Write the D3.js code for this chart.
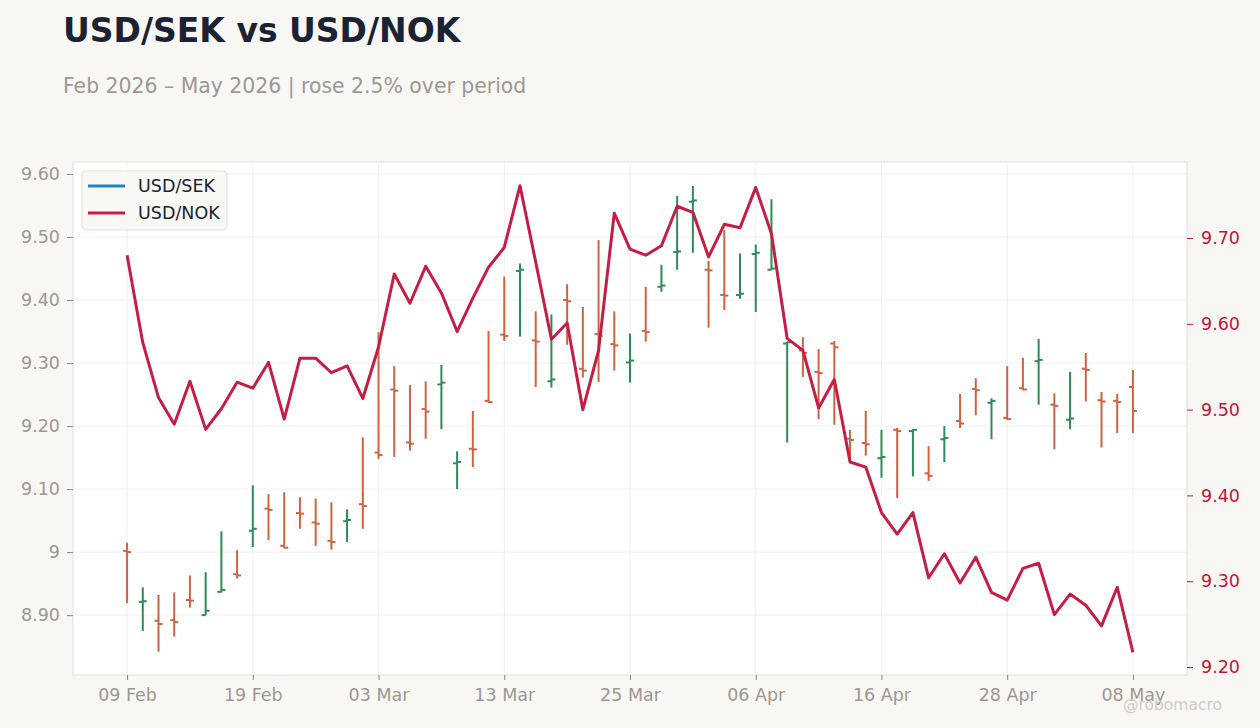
<!DOCTYPE html>
<html>
<head>
<meta charset="utf-8">
<script src="https://cdn.jsdelivr.net/npm/d3@7"></script>
<style>
  body { margin: 0; background: #f8f7f4; font-family: "DejaVu Sans", sans-serif; }
  #chart { width: 1260px; height: 728px; }
</style>
</head>
<body>
<div id="chart"></div>
<script>
// USD/SEK (OHLC, left axis) vs USD/NOK (close line, right axis)
const dates = [
  "2026-02-09","2026-02-10","2026-02-11","2026-02-12","2026-02-13","2026-02-16","2026-02-17","2026-02-18","2026-02-19","2026-02-20",
  "2026-02-23","2026-02-24","2026-02-25","2026-02-26","2026-02-27","2026-03-02","2026-03-03","2026-03-04","2026-03-05","2026-03-06",
  "2026-03-09","2026-03-10","2026-03-11","2026-03-12","2026-03-13","2026-03-16","2026-03-17","2026-03-18","2026-03-19","2026-03-20",
  "2026-03-23","2026-03-24","2026-03-25","2026-03-26","2026-03-27","2026-03-30","2026-03-31","2026-04-01","2026-04-02","2026-04-03",
  "2026-04-06","2026-04-07","2026-04-08","2026-04-09","2026-04-10","2026-04-13","2026-04-14","2026-04-15","2026-04-16","2026-04-17",
  "2026-04-20","2026-04-21","2026-04-22","2026-04-23","2026-04-24","2026-04-27","2026-04-28","2026-04-29","2026-04-30","2026-05-01",
  "2026-05-04","2026-05-05","2026-05-06","2026-05-07","2026-05-08"
];
const sekOpen = [9.002, 8.921, 8.891, 8.892, 8.924, 8.900, 8.937, 8.965, 9.034, 9.069, 9.010, 9.062, 9.047, 9.018, 9.049, 9.076, 9.158, 9.258, 9.174, 9.227, 9.266, 9.141, 9.164, 9.240, 9.345, 9.446, 9.336, 9.271, 9.400, 9.291, 9.346, 9.330, 9.301, 9.351, 9.421, 9.476, 9.556, 9.448, 9.408, 9.408, 9.473, 9.448, 9.331, 9.320, 9.286, 9.331, 9.180, 9.173, 9.149, 9.194, 9.192, 9.125, 9.179, 9.208, 9.259, 9.237, 9.213, 9.260, 9.303, 9.234, 9.210, 9.291, 9.241, 9.240, 9.262];
const sekHigh = [9.015, 8.944, 8.932, 8.936, 8.963, 8.968, 9.033, 9.003, 9.106, 9.092, 9.095, 9.087, 9.085, 9.079, 9.068, 9.182, 9.349, 9.295, 9.265, 9.271, 9.297, 9.160, 9.224, 9.351, 9.437, 9.458, 9.382, 9.377, 9.425, 9.389, 9.495, 9.382, 9.347, 9.421, 9.456, 9.565, 9.581, 9.462, 9.511, 9.474, 9.488, 9.560, 9.334, 9.341, 9.322, 9.335, 9.194, 9.224, 9.194, 9.197, 9.195, 9.168, 9.200, 9.251, 9.276, 9.244, 9.295, 9.308, 9.338, 9.252, 9.286, 9.316, 9.254, 9.251, 9.289];
const sekLow = [8.919, 8.875, 8.842, 8.866, 8.912, 8.900, 8.936, 8.958, 9.008, 9.019, 9.006, 9.037, 9.010, 9.004, 9.016, 9.037, 9.148, 9.151, 9.161, 9.180, 9.195, 9.100, 9.135, 9.237, 9.335, 9.342, 9.262, 9.261, 9.329, 9.277, 9.270, 9.288, 9.269, 9.334, 9.413, 9.448, 9.475, 9.356, 9.384, 9.402, 9.381, 9.448, 9.174, 9.278, 9.211, 9.202, 9.143, 9.153, 9.118, 9.086, 9.120, 9.113, 9.143, 9.197, 9.217, 9.179, 9.210, 9.257, 9.234, 9.163, 9.195, 9.239, 9.166, 9.189, 9.189];
const sekClose = [9.000, 8.922, 8.886, 8.889, 8.923, 8.907, 8.940, 8.963, 9.037, 9.067, 9.007, 9.061, 9.045, 9.016, 9.051, 9.073, 9.154, 9.256, 9.172, 9.223, 9.269, 9.143, 9.163, 9.238, 9.343, 9.448, 9.334, 9.274, 9.398, 9.288, 9.343, 9.328, 9.304, 9.349, 9.423, 9.477, 9.558, 9.447, 9.407, 9.410, 9.475, 9.450, 9.333, 9.316, 9.284, 9.325, 9.178, 9.171, 9.151, 9.192, 9.194, 9.121, 9.181, 9.204, 9.257, 9.240, 9.211, 9.258, 9.305, 9.232, 9.212, 9.289, 9.239, 9.238, 9.224];
const nokClose = [9.680, 9.578, 9.514, 9.483, 9.533, 9.477, 9.501, 9.532, 9.525, 9.555, 9.489, 9.560, 9.560, 9.543, 9.551, 9.513, 9.573, 9.658, 9.624, 9.667, 9.636, 9.591, 9.630, 9.666, 9.689, 9.761, 9.672, 9.582, 9.601, 9.500, 9.569, 9.729, 9.687, 9.680, 9.691, 9.737, 9.730, 9.678, 9.716, 9.712, 9.759, 9.705, 9.583, 9.569, 9.502, 9.535, 9.439, 9.433, 9.380, 9.355, 9.380, 9.304, 9.332, 9.298, 9.328, 9.287, 9.278, 9.315, 9.321, 9.261, 9.285, 9.272, 9.248, 9.293, 9.217];
const xTickIdx = [0, 8, 16, 24, 32, 40, 48, 56, 64];
const leftTicks = [8.9, 9.0, 9.1, 9.2, 9.3, 9.4, 9.5, 9.6];
const rightTicks = [9.2, 9.3, 9.4, 9.5, 9.6, 9.7];

(() => {
    const W = 1260, H = 728;
    const m = { top: 162, right: 73, bottom: 53, left: 73 };
    const w = W - m.left - m.right;
    const h = H - m.top - m.bottom;

    const up = "#2e8b57", down = "#cd6440", nokCol = "#c41e45", sekCol = "#1f88c4";
    const grey = "#9c9893";
    const fs = 17.5;

    const svg = d3.select("#chart").append("svg").attr("width", W).attr("height", H)
        .style("font-family", "'DejaVu Sans', sans-serif");

    svg.append("text").attr("x", 63).attr("y", 42).attr("font-size", 33).attr("font-weight", "bold")
        .attr("fill", "#1b2333").text("USD/SEK vs USD/NOK");
    svg.append("text").attr("x", 63).attr("y", 93).attr("font-size", 20.4).attr("fill", grey)
        .text("Feb 2026 \u2013 May 2026 | rose 2.5% over period");

    const g = svg.append("g").attr("transform", `translate(${m.left},${m.top})`);

    const x = d3.scaleLinear().domain([-3.44, 67.44]).range([0, w]);
    const y = d3.scaleLinear().domain([8.805, 9.619]).range([h, 0]);
    const y2 = d3.scaleLinear().domain([9.1907, 9.7886]).range([h, 0]);

    g.append("rect").attr("width", w).attr("height", h).attr("fill", "#fff")
        .attr("stroke", "#e2dfda").attr("stroke-width", 1);

    // grid
    g.append("g").selectAll("line").data(leftTicks).join("line")
        .attr("x1", 0).attr("x2", w).attr("y1", d => y(d)).attr("y2", d => y(d))
        .attr("stroke", "#ececec").attr("stroke-width", 0.8);
    g.append("g").selectAll("line").data(xTickIdx).join("line")
        .attr("y1", 0).attr("y2", h).attr("x1", d => x(d)).attr("x2", d => x(d))
        .attr("stroke", "#ececec").attr("stroke-width", 0.8);

    const fmtDate = d3.timeFormat("%d %b");
    const parse = d3.timeParse("%Y-%m-%d");

    const styleAxis = (sel, col) => {
        sel.select(".domain").remove();
        sel.selectAll(".tick line").attr("stroke", "#8a8580");
        sel.selectAll(".tick text").attr("fill", col).attr("font-size", fs)
            .attr("font-family", "'DejaVu Sans', sans-serif");
    };

    g.append("g").attr("transform", `translate(0,${h})`)
        .call(d3.axisBottom(x).tickValues(xTickIdx).tickSize(5).tickPadding(9)
            .tickFormat(i => fmtDate(parse(dates[i]))))
        .call(s => styleAxis(s, grey));

    g.append("g")
        .call(d3.axisLeft(y).tickValues(leftTicks).tickSize(6).tickPadding(7)
            .tickFormat(v => Math.abs(v - Math.round(v)) < 1e-9 ? String(Math.round(v)) : v.toFixed(2)))
        .call(s => styleAxis(s, grey));

    g.append("g").attr("transform", `translate(${w},0)`)
        .call(d3.axisRight(y2).tickValues(rightTicks).tickSize(6).tickPadding(8).tickFormat(d3.format(".2f")))
        .call(s => { styleAxis(s, "#c0143c"); s.selectAll(".tick line").attr("stroke", "#c0143c"); });

    // OHLC bars
    const bars = dates.map((d, i) => ({ i, o: sekOpen[i], hi: sekHigh[i], lo: sekLow[i], c: sekClose[i] }));
    const bg = g.append("g").selectAll("g").data(bars).join("g")
        .attr("stroke", d => d.c >= d.o ? up : down).attr("stroke-width", 2);
    bg.append("line").attr("x1", d => x(d.i)).attr("x2", d => x(d.i))
        .attr("y1", d => y(d.hi)).attr("y2", d => y(d.lo));
    bg.append("line").attr("x1", d => x(d.i) - 4).attr("x2", d => x(d.i))
        .attr("y1", d => y(d.o)).attr("y2", d => y(d.o));
    bg.append("line").attr("x1", d => x(d.i)).attr("x2", d => x(d.i) + 4)
        .attr("y1", d => y(d.c)).attr("y2", d => y(d.c));

    // NOK line
    g.append("path").datum(nokClose)
        .attr("fill", "none").attr("stroke", nokCol).attr("stroke-width", 3)
        .attr("stroke-linejoin", "round")
        .attr("d", d3.line().x((d, i) => x(i)).y(d => y2(d)));

    // legend
    const lg = svg.append("g").attr("transform", "translate(82,171)");
    lg.append("rect").attr("width", 145).attr("height", 59).attr("rx", 4)
        .attr("fill", "#f9f8f5").attr("stroke", "#e2dfda");
    [["USD/SEK", sekCol], ["USD/NOK", nokCol]].forEach(([t, c], k) => {
        const yy = 15 + k * 27;
        lg.append("line").attr("x1", 6).attr("x2", 43).attr("y1", yy).attr("y2", yy)
            .attr("stroke", c).attr("stroke-width", 3);
        lg.append("text").attr("x", 56).attr("y", yy + 6).attr("font-size", fs)
            .attr("fill", "#1b2333").text(t);
    });

    svg.append("text").attr("x", 1222).attr("y", 710).attr("text-anchor", "end")
        .attr("font-size", 15.5).attr("fill", "#cfcbc6").text("@robomacro");
})();
</script>
</body>
</html>
